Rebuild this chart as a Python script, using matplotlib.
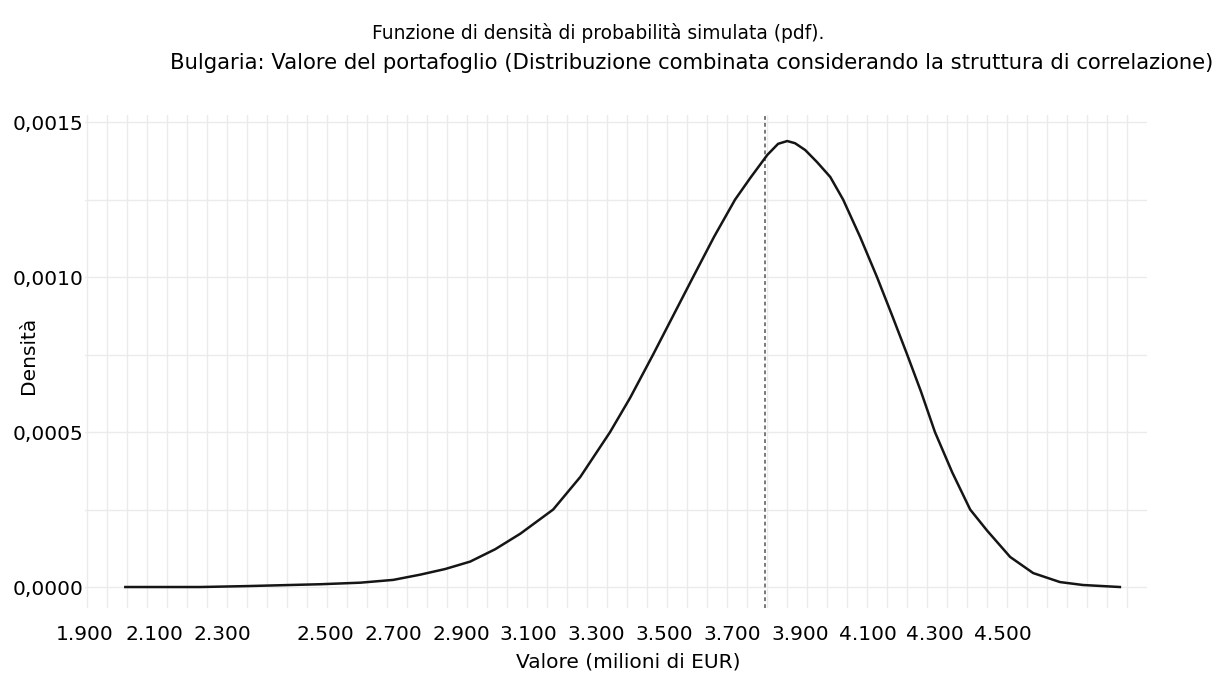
import numpy as np
import matplotlib
matplotlib.use("Agg")
import matplotlib.pyplot as plt

# Valori (milioni di EUR, densità)
valore = [1909, 2130, 2269, 2485, 2603, 2700, 2780, 2853, 2927, 3001,
          3075, 3172, 3252, 3340, 3399, 3467, 3526, 3585, 3647, 3709,
          3754, 3804, 3836, 3863, 3886, 3916, 3951, 3990, 4028, 4078,
          4128, 4173, 4217, 4258, 4299, 4350, 4403, 4453, 4521, 4589,
          4668, 4736, 4845]
densita = [0.0, 0.0, 0.000003, 0.000009, 0.000014, 0.000023, 0.00004,
           0.000058, 0.000082, 0.000122, 0.000172, 0.00025, 0.000355,
           0.0005, 0.00061, 0.00075, 0.000875, 0.001, 0.00113, 0.00125,
           0.00132, 0.001394, 0.00143, 0.001439, 0.001432, 0.00141,
           0.001371, 0.001323, 0.00125, 0.00113, 0.001, 0.000875, 0.00075,
           0.00063, 0.0005, 0.00037, 0.00025, 0.000182, 0.000097, 0.000045,
           0.000016, 0.0000065, 0.0]
media = 3798

x_tick_pos = [1790, 1995, 2195, 2500, 2700, 2900, 3100, 3300, 3500, 3700,
              3900, 4100, 4300, 4500]
x_tick_lab = ["1.900", "2.100", "2.300", "2.500", "2.700", "2.900", "3.100",
              "3.300", "3.500", "3.700", "3.900", "4.100", "4.300", "4.500"]
y_tick_pos = [0.0, 0.0005, 0.0010, 0.0015]
y_tick_lab = ["0,0000", "0,0005", "0,0010", "0,0015"]

W, H = 1226, 684
fig = plt.figure(figsize=(W / 100, H / 100), dpi=100)
ax = fig.add_axes([85 / W, (H - 608) / H, (1147 - 85) / W, (608 - 115) / H])

ax.set_xlim(1791, 4925)
ax.set_ylim(-0.0000677, 0.001523)

# griglia
grid_col = "#ebebeb"
for gx in np.arange(1797, 4870, 59.02):
    ax.axvline(gx, color=grid_col, lw=1, zorder=0)
for gy in np.arange(0, 0.00151, 0.00025):
    ax.axhline(gy, color=grid_col, lw=1, zorder=0)

ax.plot(valore, densita, color="#151515", lw=1.8, zorder=3,
        solid_joinstyle="round")
ax.axvline(media, color="#555555", lw=1.1, ls=(0, (2.5, 2)), zorder=2)

ax.set_xticks(x_tick_pos)
ax.set_xticklabels(x_tick_lab)
ax.set_yticks(y_tick_pos)
ax.set_yticklabels(y_tick_lab)
ax.tick_params(axis="both", length=0, labelsize=14.5, colors="black")
ax.tick_params(axis="x", pad=12)
ax.tick_params(axis="y", pad=1)
for s in ax.spines.values():
    s.set_visible(False)

fig.text(598 / W, 1 - 33 / H, "Funzione di densità di probabilità simulata (pdf).",
         ha="center", va="center", fontsize=13.4)
fig.text(1213 / W, 1 - 63 / H,
         "Bulgaria: Valore del portafoglio (Distribuzione combinata considerando la struttura di correlazione)",
         ha="right", va="center", fontsize=15.2)
fig.text(628 / W, 1 - 662 / H, "Valore (milioni di EUR)", ha="center", va="center", fontsize=14.5)
fig.text(28 / W, 1 - 355 / H, "Densità", ha="center", va="center", rotation=90, fontsize=14.5)

fig.savefig("out.png", dpi=100)
